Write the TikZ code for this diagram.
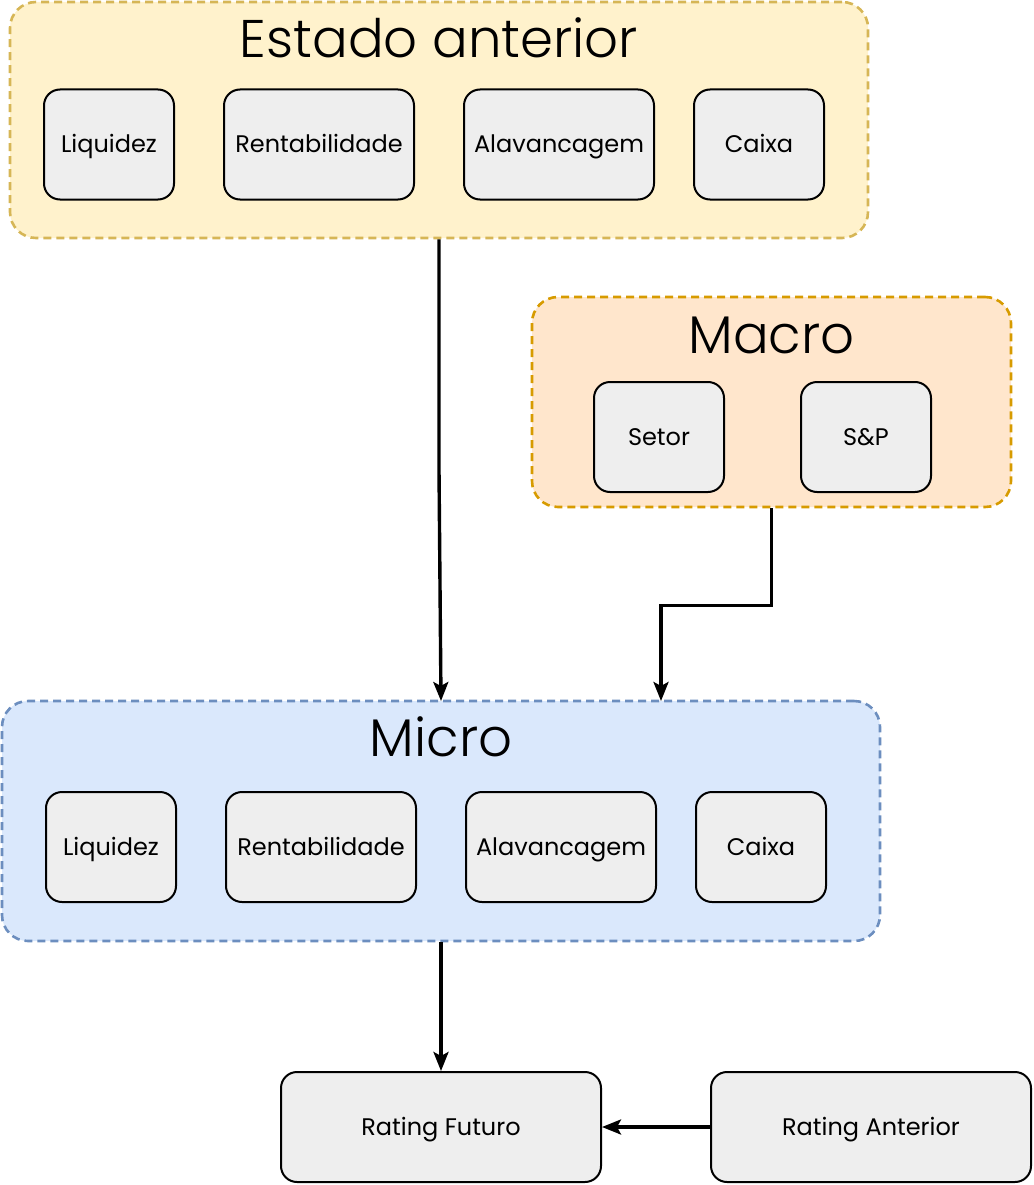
\documentclass[tikz,border=0pt]{standalone}
\usepackage{fontspec}
\setmainfont{Poppins}
\newfontfamily\titlefont{Poppins Light}
\usetikzlibrary{arrows.meta}
\definecolor{yelfill}{HTML}{FFF2CC}
\definecolor{yeldraw}{HTML}{D6B656}
\definecolor{orfill}{HTML}{FFE6CC}
\definecolor{ordraw}{HTML}{D79B00}
\definecolor{blfill}{HTML}{DAE8FC}
\definecolor{bldraw}{HTML}{6C8EBF}
\definecolor{boxfill}{HTML}{EEEEEE}
\tikzset{
  container/.style={rounded corners=26pt, line width=2.6pt, dash pattern=on 8pt off 5pt, minimum width=#1},
  ibox/.style={draw=black, fill=boxfill, line width=2pt, rounded corners=16pt, minimum height=110pt, inner sep=0pt, text height=17pt, text depth=0pt, font=\fontsize{24}{28}\selectfont},
  title/.style={font=\titlefont\fontsize{53}{60}\selectfont, inner sep=0pt, text height=37pt, text depth=0pt},
  conn/.style={line width=3.4pt, -{Stealth[length=19pt,width=15pt,inset=4pt]}}
}
\begin{document}
\begin{tikzpicture}[x=1pt,y=-1pt]
\useasboundingbox (0,0) rectangle (1033,1185);
% containers
\node[container=858pt, minimum height=236pt, draw=yeldraw, fill=yelfill] (estado) at (439,120) {};
\node[container=479pt, minimum height=210pt, draw=ordraw, fill=orfill] (macro) at (771.5,402) {};
\node[container=878pt, minimum height=240pt, draw=bldraw, fill=blfill] (micro) at (441,821) {};
% titles
\node[title] (estadoT) at (439,39) {Estado anterior};
\node[title] (macroT) at (771.5,335) {Macro};
\node[title] (microT) at (441,738) {Micro};
% estado boxes
\node[ibox, minimum width=130pt] (eliq) at (109,144.5) {Liquidez};
\node[ibox, minimum width=190pt] (erent) at (319,144.5) {Rentabilidade};
\node[ibox, minimum width=190pt] (ealav) at (559,144.5) {Alavancagem};
\node[ibox, minimum width=130pt] (ecaixa) at (759,144.5) {Caixa};
% macro boxes
\node[ibox, minimum width=130pt] (setor) at (659,437) {Setor};
\node[ibox, minimum width=130pt] (sp) at (866,437) {S\&P};
% micro boxes
\node[ibox, minimum width=130pt] (mliq) at (111,847) {Liquidez};
\node[ibox, minimum width=190pt] (mrent) at (321,847) {Rentabilidade};
\node[ibox, minimum width=190pt] (malav) at (561,847) {Alavancagem};
\node[ibox, minimum width=130pt] (mcaixa) at (761,847) {Caixa};
% ratings
\node[ibox, minimum width=320pt] (rfut) at (441,1127) {Rating Futuro};
\node[ibox, minimum width=320pt] (rant) at (871,1127) {Rating Anterior};
% connectors
\coordinate (microTopA) at (441,701);
\coordinate (microTopB) at (661,701);
\draw[conn] (estado.south) -- (439,470) -- (microTopA);
\draw[conn] (macro.south) -- ++(0,97) -| (microTopB);
\draw[conn] (micro.south) -- (rfut.north);
\draw[conn] (rant.west) -- (rfut.east);
\end{tikzpicture}
\end{document}
